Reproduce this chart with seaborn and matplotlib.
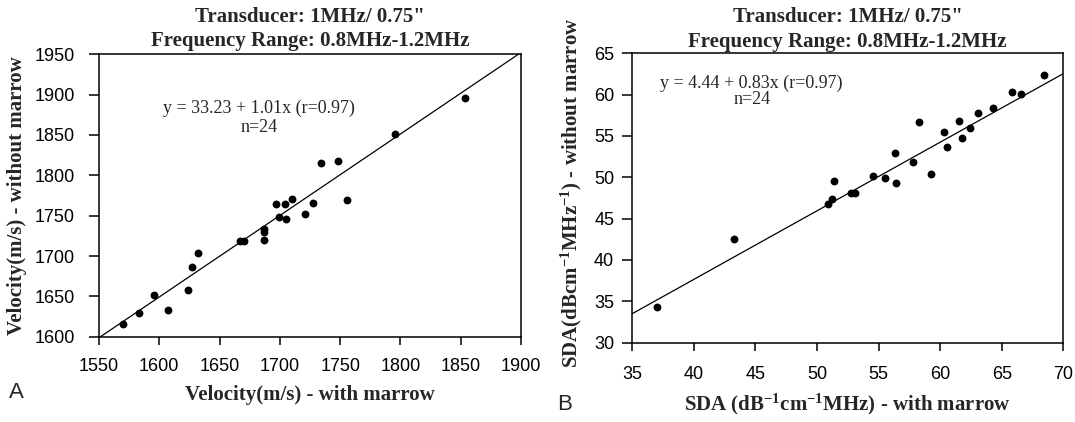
import numpy as np
import pandas as pd
import matplotlib
matplotlib.use("Agg")
import matplotlib.pyplot as plt
import seaborn as sns

# ---- data ----
vel_with = [1569.8, 1583.5, 1595.5, 1607.0, 1623.9, 1626.8, 1632.5, 1666.6, 1670.3, 1686.6, 1686.9, 1687.2,
            1697.0, 1699.0, 1704.4, 1705.5, 1710.1, 1720.7, 1727.9, 1734.2, 1747.9, 1756.0, 1795.8, 1853.4]
vel_without = [1615.7, 1629.7, 1651.6, 1633.4, 1657.4, 1685.8, 1704.0, 1718.4, 1718.4, 1733.7, 1729.6, 1720.1,
               1764.3, 1748.6, 1764.7, 1746.1, 1770.9, 1751.9, 1765.5, 1815.0, 1817.9, 1770.0, 1851.3, 1895.9]
sda_with = [36.98, 43.26, 50.9, 51.2, 51.4, 52.77, 53.05, 54.52, 55.54, 56.3, 56.41, 57.81,
            58.32, 59.25, 60.33, 60.53, 61.5, 61.8, 62.45, 63.07, 64.32, 65.84, 66.6, 68.42]
sda_without = [34.25, 42.5, 46.8, 47.4, 49.5, 48.13, 48.13, 50.11, 49.95, 52.95, 49.34, 51.81,
               56.67, 50.44, 55.46, 53.72, 56.75, 54.73, 55.98, 57.76, 58.37, 60.35, 60.07, 62.42]
fit_a = [33.23, 1.01]   # intercept, slope
fit_b = [4.44, 0.83]
xticks_a = [1550, 1600, 1650, 1700, 1750, 1800, 1850, 1900]
yticks_a = [1600, 1650, 1700, 1750, 1800, 1850, 1900, 1950]
xticks_b = [35, 40, 45, 50, 55, 60, 65, 70]
yticks_b = [30, 35, 40, 45, 50, 55, 60, 65]
title_lines = ['Transducer: 1MHz/ 0.75"', 'Frequency Range: 0.8MHz-1.2MHz']
eq_a = ["y = 33.23 + 1.01x (r=0.97)", "n=24"]
eq_b = ["y = 4.44 + 0.83x (r=0.97)", "n=24"]

sns.set_theme(style="ticks")
plt.rcParams["font.family"] = ["Liberation Sans", "DejaVu Sans"]
plt.rcParams["mathtext.default"] = "regular"

fig = plt.figure(figsize=(10.75, 4.22), dpi=100)
W, H = 1075, 422

def px_axes(l, r, t, b):
    return fig.add_axes([l / W, 1 - b / H, (r - l) / W, (b - t) / H])

axA = px_axes(99, 521, 54.3, 336.7)
axB = px_axes(632.3, 1063.3, 53.3, 342.5)

serif = ["Liberation Serif", "DejaVu Serif"]

def draw(ax, xs, ys, fit, xt, yt, xlabel, ylabel, eq, eqpos, ylab_x, ylab_y, xlab_y, ypad, xpad):
    df = pd.DataFrame({"x": xs, "y": ys})
    sns.scatterplot(data=df, x="x", y="y", ax=ax, color="black", s=32, linewidth=0, zorder=3)
    lx = np.array([xt[0], xt[-1]], dtype=float)
    line = pd.DataFrame({"x": lx, "y": fit[0] + fit[1] * lx})
    sns.lineplot(data=line, x="x", y="y", ax=ax, color="black", linewidth=0.9)
    ax.set_xlim(xt[0], xt[-1])
    ax.set_ylim(yt[0], yt[-1])
    ax.set_xticks(xt)
    ax.set_yticks(yt)
    ax.tick_params(direction="out", width=1.1, labelsize=13, colors="black")
    ax.tick_params(axis="y", pad=ypad, length=7)
    ax.tick_params(axis="x", pad=xpad, length=6)
    for s in ax.spines.values():
        s.set_visible(True)
        s.set_linewidth(1.1)
        s.set_color("black")
    ax.set_xlabel(xlabel, fontfamily=serif, fontweight="bold", fontsize=15, va="center")
    ax.set_ylabel(ylabel, fontfamily=serif, fontweight="bold", fontsize=15, va="center")
    ax.xaxis.set_label_coords(0.5, xlab_y)
    ax.yaxis.set_label_coords(ylab_x, ylab_y)
    ax.text(eqpos[0], eqpos[1], eq[0], fontfamily=serif, fontsize=13, ha="center", va="center")
    ax.text(eqpos[0], eqpos[2], eq[1], fontfamily=serif, fontsize=13, ha="center", va="center")

draw(axA, vel_with, vel_without, fit_a, xticks_a, yticks_a,
     "Velocity(m/s) - with marrow", "Velocity(m/s) - without marrow",
     eq_a, (1682.7, 1883.5, 1858.7), -0.194, 0.5, -0.206, 10.5, 9.5)
draw(axB, sda_with, sda_without, fit_b, xticks_b, yticks_b,
     r"SDA (dB$^{-1}$cm$^{-1}$MHz) - with marrow",
     r"SDA(dBcm$^{-1}$MHz$^{-1}$) - without marrow",
     eq_b, (44.7, 61.37, 59.35), -0.142, 0.517, -0.213, 6, 11)

for ax, tops, bottom, hgt in [(axA, (16.7, 41.0), 336.7, 282.4), (axB, (17.5, 41.7), 342.5, 289.2)]:
    for line, ty in zip(title_lines, tops):
        ax.text(0.5, (bottom - ty) / hgt, line, transform=ax.transAxes, ha="center", va="center",
                fontfamily=serif, fontweight="bold", fontsize=15)

fig.text(16 / W, 1 - 393 / H, "A", ha="center", va="center", fontsize=16, fontfamily=["Liberation Sans"])
fig.text(565 / W, 1 - 404 / H, "B", ha="center", va="center", fontsize=16, fontfamily=["Liberation Sans"])

fig.savefig("out.png", dpi=100, facecolor="white")
